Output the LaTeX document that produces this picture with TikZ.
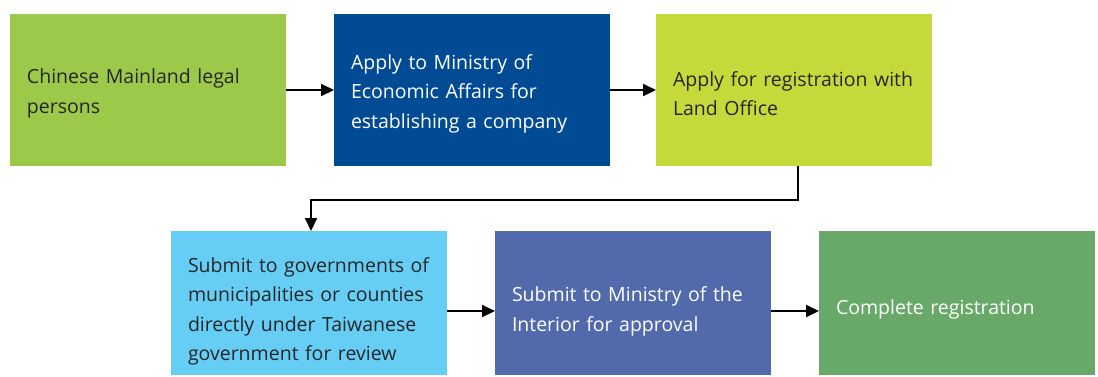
\documentclass[tikz,border=0pt]{standalone}
\usepackage{fontspec}
\setmainfont{Open Sans}
\usetikzlibrary{positioning}
\usetikzlibrary{arrows.meta}

\definecolor{legalgreen}{HTML}{9DC94B}
\definecolor{moeablue}{HTML}{004B93}
\definecolor{landlime}{HTML}{C5D93A}
\definecolor{countysky}{HTML}{66CEF5}
\definecolor{moiblue}{HTML}{526AAB}
\definecolor{donegreen}{HTML}{68A96A}

\begin{document}
\begin{tikzpicture}[->,
            >={Triangle[length=13pt,width=12pt]},
            line width=2pt,
            node distance = 48pt,
            box/.style = {minimum height=152pt,text width=242pt,
                inner xsep=17pt,inner ysep=0pt,outer sep=0pt,align=left,
                text=black!85,font=\fontsize{19.5}{29.5}\selectfont,
                execute at end node={\endgraf\vspace{-7pt}}},
            lowbox/.style = {box,minimum height=144pt,
                execute at end node={\endgraf\vspace{-10pt}}}]
            \useasboundingbox (0,0) rectangle (1098pt,-376pt);
            \node[box,fill=legalgreen,anchor=north west] (legal) at (10pt,-14pt) {
                Chinese Mainland legal\\
                persons
            };
            \node[box,fill=moeablue,text=white,right=of legal] (moea) {
                Apply to Ministry of\\
                Economic Affairs for\\
                establishing a company
            };
            \node[box,fill=landlime,right=46pt of moea] (land) {
                Apply for registration with\\
                Land Office
            };
            \node[lowbox,fill=countysky,anchor=north west] (county) at (171pt,-231pt) {
                Submit to governments of\\
                municipalities or counties\\
                directly under Taiwanese\\
                government for review
            };
            \node[lowbox,fill=moiblue,text=white,right=of county] (moi) {
                Submit to Ministry of the\\
                Interior for approval
            };
            \node[lowbox,fill=donegreen,text=white,right=of moi] (done) {
                \mbox{}\\[-18pt]
                Complete registration
            };
            \path[]
                (legal) edge (moea)
                (moea) edge (land);
            \draw ([yshift=-8pt]county.east) -- ([yshift=-8pt]moi.west);
            \draw ([yshift=-8pt]moi.east) -- ([yshift=-8pt]done.west);
            \draw ([xshift=4pt]land.south) -- ++(0,-34pt) -| ([xshift=2pt]county.north);
        \end{tikzpicture}
\end{document}
